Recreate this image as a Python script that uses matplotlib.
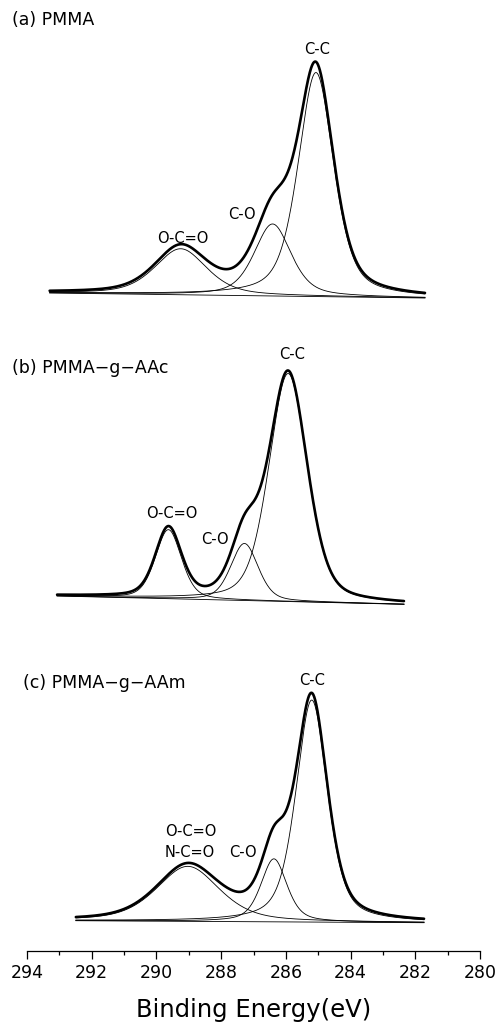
import numpy as np
import matplotlib
matplotlib.use("Agg")
import matplotlib.pyplot as plt

plt.rcParams['font.family'] = ['DejaVu Sans']

# ---- C1s peak-fit parameters for each sample ----
# energy window of the measured envelope (eV)
e_start = [293.3, 293.07, 292.49]
e_end = [281.7, 282.35, 281.73]
# linear background level at window start / end (a.u.)
bg_start = [5.0, 8.3, 2.0]
bg_end = [0.0, 0.0, 0.0]

# fitted components: C-C, C-O, O-C=O (binding energy, height, FWHM, Lorentz fraction)
cc_center = [285.07, 285.93, 285.20]
cc_height = [224.0, 228.0, 222.0]
cc_fwhm = [1.30, 1.40, 1.15]
co_center = [286.41, 287.28, 286.37]
co_height = [72.0, 57.0, 63.0]
co_fwhm = [1.35, 1.00, 0.95]
oco_center = [289.25, 289.63, 289.03]
oco_height = [46.0, 69.0, 55.0]
oco_fwhm = [1.90, 0.95, 2.30]
lorentz_frac = [0.5, 0.35, 0.5]

titles = ["(a) PMMA", "(b) PMMA\u2212g\u2212AAc", "(c) PMMA\u2212g\u2212AAm"]

# peak annotations: (text, energy, height)
labels = [
    [("C-C", 285.04, 248.7), ("C-O", 287.37, 83.7), ("O-C=O", 289.19, 59.7)],
    [("C-C", 285.80, 250.0), ("C-O", 288.19, 64.3), ("O-C=O", 289.53, 91.0)],
    [("C-C", 285.18, 242.0), ("C-O", 287.32, 70.7),
     ("O-C=O", 288.95, 91.7), ("N-C=O", 288.97, 70.0)],
]

x_ticks = [294, 292, 290, 288, 286, 284, 282, 280]


def pseudo_voigt(e, center, height, fwhm, eta):
    hw = fwhm / 2.0
    d = (e - center) / hw
    lor = 1.0 / (1.0 + d ** 2)
    gau = np.exp(-np.log(2) * d ** 2)
    return height * (eta * lor + (1 - eta) * gau)


W, H = 499, 1027
fig = plt.figure(figsize=(W / 100, H / 100), dpi=100)

left = 27 / W
width = 453 / W
zero_rows = [298.0, 604.3, 922.7]
title_pos = [(12, 20), (12, 368), (23, 683)]
axis_row = 951

for i in range(3):
    z = zero_rows[i]
    top = z - 292
    bottom = axis_row if i == 2 else z + 10
    ax = fig.add_axes([left, 1 - bottom / H, width, (bottom - top) / H])
    ax.set_xlim(294, 280)
    ax.set_ylim(-(bottom - z), z - top)
    for s in ("left", "right", "top"):
        ax.spines[s].set_visible(False)
    ax.set_yticks([])

    e = np.linspace(e_start[i], e_end[i], 1200)
    bg = bg_start[i] + (bg_end[i] - bg_start[i]) * (e - e_start[i]) / (e_end[i] - e_start[i])
    eta = lorentz_frac[i]
    comps = [
        pseudo_voigt(e, cc_center[i], cc_height[i], cc_fwhm[i], eta),
        pseudo_voigt(e, co_center[i], co_height[i], co_fwhm[i], eta),
        pseudo_voigt(e, oco_center[i], oco_height[i], oco_fwhm[i], eta),
    ]
    ax.plot(e, bg, color="black", lw=0.6)
    for c in comps:
        ax.plot(e, bg + c, color="black", lw=0.6)
    ax.plot(e, bg + sum(comps), color="black", lw=1.9, solid_capstyle="round")

    for txt, ex, ey in labels[i]:
        ax.text(ex, ey, txt, ha="center", va="center", fontsize=10.5)

    tx, ty = title_pos[i]
    fig.text(tx / W, 1 - ty / H, titles[i], ha="left", va="center", fontsize=12.5)

    if i < 2:
        ax.spines["bottom"].set_visible(False)
        ax.set_xticks([])
    else:
        ax.spines["bottom"].set_linewidth(0.9)
        ax.set_xticks(x_ticks)
        ax.set_xticks(np.arange(281, 294, 2), minor=True)
        ax.tick_params(axis="x", which="major", direction="out", length=6,
                       width=0.9, labelsize=12.5, pad=3)
        ax.tick_params(axis="x", which="minor", direction="out", length=3, width=0.9)
        ax.set_xlabel("Binding Energy(eV)", fontsize=17.5, labelpad=12)

fig.savefig("out.png", dpi=100)
